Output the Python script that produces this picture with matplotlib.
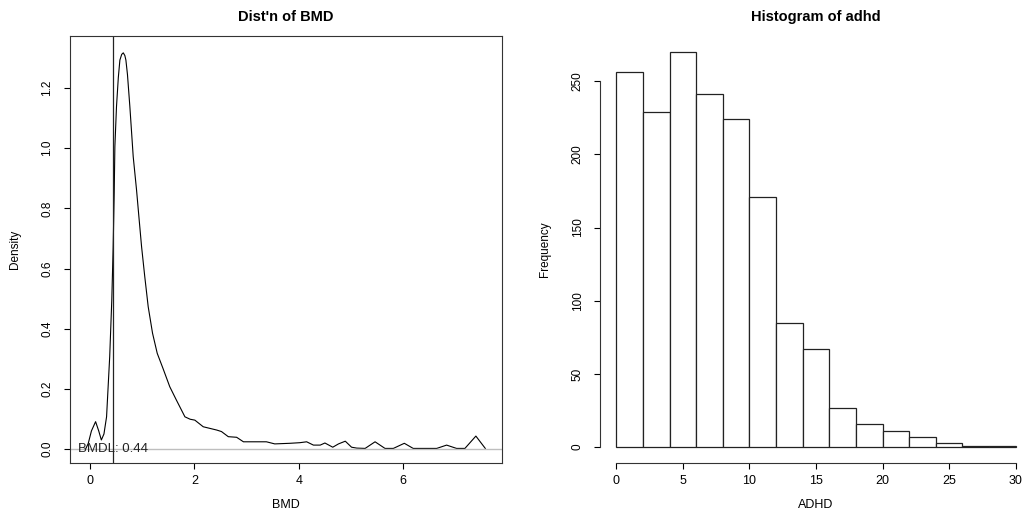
import matplotlib
matplotlib.use("Agg")
import matplotlib.pyplot as plt
import numpy as np

plt.rcParams['font.family'] = ['Liberation Sans', 'DejaVu Sans']

# density of BMD
bmd_x = [-0.08, -0.03, 0.03, 0.11, 0.17, 0.22, 0.27, 0.32, 0.38, 0.42, 0.446,
         0.466, 0.479, 0.51, 0.545, 0.575, 0.61, 0.64, 0.67, 0.69, 0.72,
         0.766, 0.80, 0.83, 0.894, 0.94, 0.99, 1.05, 1.117, 1.20, 1.29, 1.40,
         1.53, 1.65, 1.82, 1.92, 2.01, 2.17, 2.43, 2.52, 2.65, 2.81,
         2.94, 3.19, 3.38, 3.54, 3.83, 4.02, 4.15, 4.28, 4.41, 4.50, 4.65,
         4.76, 4.89, 5.01, 5.11, 5.27, 5.46, 5.65, 5.81, 6.02, 6.19, 6.64,
         6.83, 7.02, 7.18, 7.39, 7.57]
bmd_y = [0.0, 0.019, 0.06, 0.091, 0.06, 0.030, 0.05, 0.107, 0.307, 0.495, 0.67,
         0.85, 1.005, 1.138, 1.235, 1.293, 1.312, 1.317, 1.308, 1.293, 1.245,
         1.138, 1.05, 0.972, 0.861, 0.77, 0.673, 0.575, 0.473, 0.385, 0.318,
         0.268, 0.207, 0.165, 0.107, 0.099, 0.096, 0.074, 0.063, 0.058, 0.041,
         0.039, 0.024, 0.024, 0.024, 0.017, 0.019, 0.021, 0.024, 0.013, 0.013,
         0.020, 0.006, 0.017, 0.026, 0.006, 0.003, 0.002, 0.024, 0.002, 0.002,
         0.019, 0.002, 0.002, 0.013, 0.002, 0.002, 0.043, 0.002]
bmdl = 0.44

# histogram of adhd
adhd_edges = np.arange(0, 32, 2)
adhd_counts = [256, 229, 270, 241, 224, 171, 85, 67, 27, 16, 11, 7, 3, 1, 1]


def style(ax):
    ax.tick_params(direction='out', length=4, width=0.8, labelsize=9, pad=5)
    ax.tick_params(axis='y', pad=8, labelsize=8.5)
    for s in ax.spines.values():
        s.set_linewidth(0.8)
        s.set_color('#333333')


fig = plt.figure(figsize=(10.26, 5.15), dpi=100)
ax1 = fig.add_axes([70/1026, 1-463/515, 432/1026, 427/515])
ax2 = fig.add_axes([600.3/1026, 1-463/515, 431.4/1026, 427/515])

# left: density
ax1.plot(bmd_x, bmd_y, color='black', lw=0.8)
ax1.axhline(0, color='#bebebe', lw=1)
ax1.axvline(bmdl, color='#222222', lw=0.9)
ax1.text(bmdl, 0, "BMDL: %.2f" % bmdl, ha='center', va='center', fontsize=9.5,
         color='#222222')
ax1.set_xlim(-0.38, 7.89)
ax1.set_ylim(-0.0465, 1.373)
ax1.set_xticks([0, 2, 4, 6])
ax1.set_yticks(np.arange(0, 1.3, 0.2))
ax1.set_yticklabels(["%.1f" % v for v in np.arange(0, 1.3, 0.2)], rotation=90, va='center')
ax1.set_title("Dist'n of BMD", fontweight='bold', fontsize=10.5, pad=11)
ax1.set_xlabel("BMD", fontsize=9)
ax1.set_ylabel("Density", fontsize=8.5)
ax1.xaxis.set_label_coords(0.5, -36/427)
ax1.yaxis.set_label_coords(-49/432, 0.5)
style(ax1)

# right: histogram
ax2.bar(adhd_edges[:-1], adhd_counts, width=2, align='edge',
        color='white', edgecolor='#222222', lw=0.9)
ax2.set_xlim(-1.2, 31.2)
ax2.set_ylim(-10.8, 280.8)
ax2.set_xticks([0, 5, 10, 15, 20, 25, 30])
ax2.set_yticks([0, 50, 100, 150, 200, 250])
ax2.set_yticklabels(["0", "50", "100", "150", "200", "250"], rotation=90, va='center')
ax2.spines['top'].set_visible(False)
ax2.spines['right'].set_visible(False)
ax2.spines['left'].set_bounds(0, 250)
ax2.spines['bottom'].set_bounds(0, 30)
ax2.set_title("Histogram of adhd", fontweight='bold', fontsize=10.5, pad=11)
ax2.set_xlabel("ADHD", fontsize=9)
ax2.set_ylabel("Frequency", fontsize=8.5)
ax2.xaxis.set_label_coords(0.5, -36/427)
ax2.yaxis.set_label_coords(-49/431.4, 0.5)
style(ax2)

fig.savefig("out.png", dpi=100)
